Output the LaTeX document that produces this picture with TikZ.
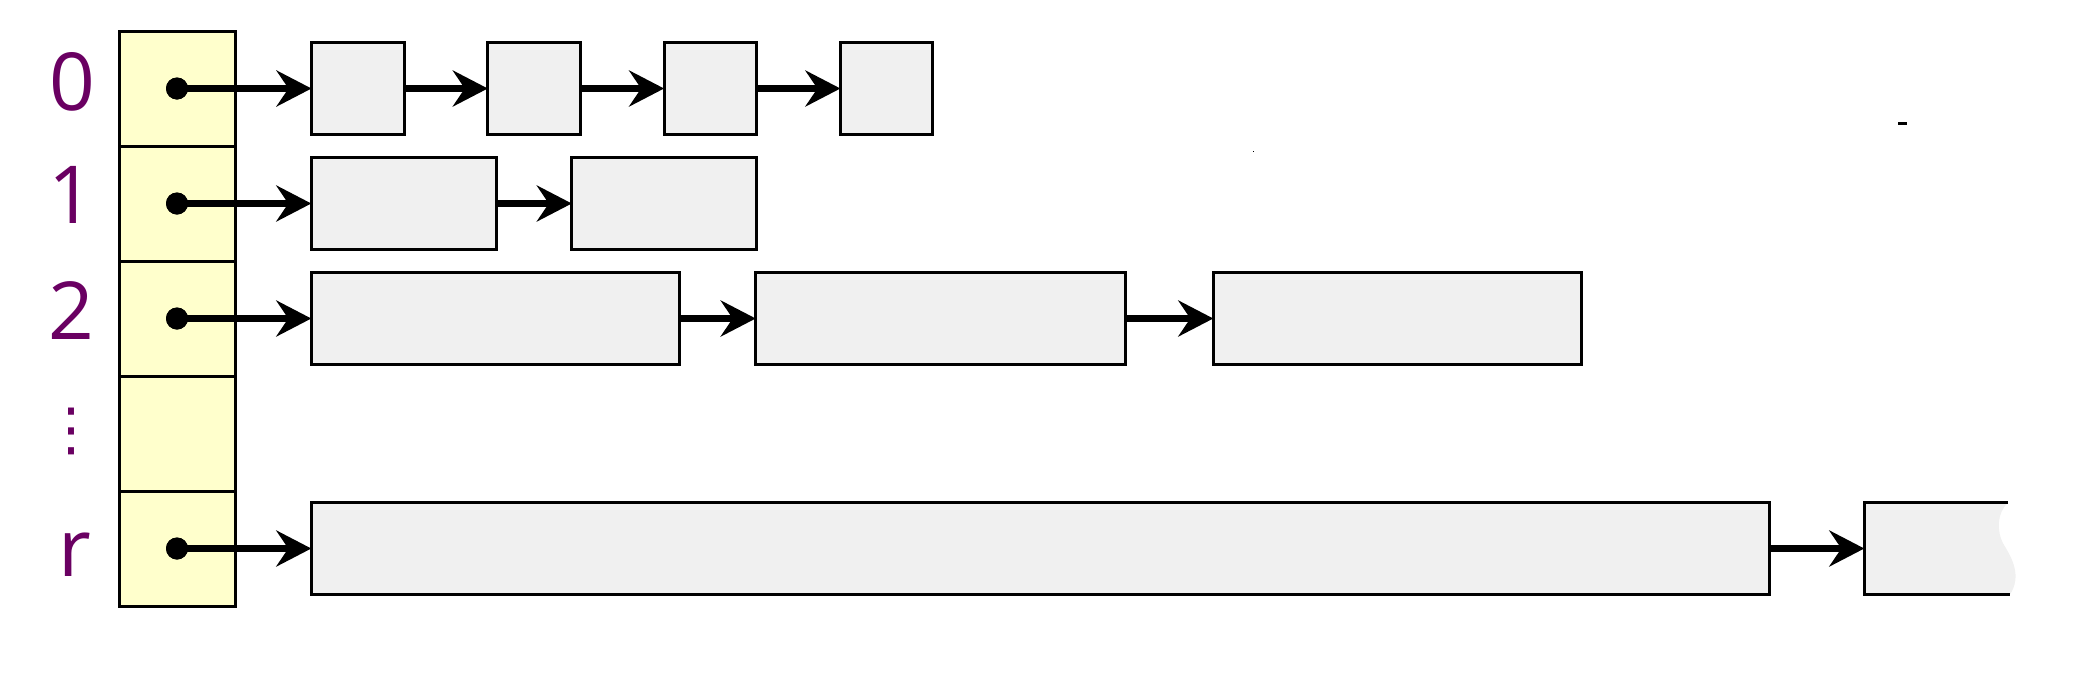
\documentclass[tikz,border=0pt]{standalone}
\usepackage{fontspec}
\setmainfont{Open Sans}
\newfontfamily\symfont{DejaVu Sans}
\usetikzlibrary{arrows.meta}
\definecolor{cellyellow}{HTML}{FFFFCC}
\definecolor{boxgray}{HTML}{F0F0F0}
\definecolor{labpurple}{HTML}{6A0062}
\tikzset{
  cell/.style={draw=black, line width=3pt, fill=cellyellow, minimum width=116pt, minimum height=115pt, inner sep=0pt, outer sep=0pt},
  lbox/.style={draw=black, line width=3pt, fill=boxgray, minimum height=92pt, inner sep=0pt, outer sep=0pt, anchor=west},
  ghost/.style={minimum height=92pt, inner sep=0pt, outer sep=0pt, anchor=west},
  arr/.style={line width=7pt, -{Stealth[length=35pt, width=36pt, inset=12pt]}},
  lab/.style={text=labpurple, font=\fontsize{80}{96}\selectfont, anchor=base, inner sep=0pt},
  dotc/.style={circle, fill=black, minimum size=22pt, inner sep=0pt}
}
\begin{document}
\begin{tikzpicture}[x=1pt,y=-1pt]
\useasboundingbox (0,0) rectangle (2096,694);
% index column
\node[cell] (c0) at (177,88.5) {};
\node[cell] (c1) at (177,203.5) {};
\node[cell] (c2) at (177,318.5) {};
\node[cell] (c3) at (177,433.5) {};
\node[cell] (c4) at (177,548.5) {};
% labels
\node[lab] (l0) at (72.5,110) {0};
\node[lab] (l1) at (71.5,223) {1};
\node[lab] (l2) at (71,339) {2};
\node[text=labpurple, font=\symfont\fontsize{58}{70}\selectfont, inner sep=0pt] (l3) at (71,431.5) {⋮};
\node[lab] (l4) at (75,576) {r};
% dots
\node[dotc] (d0) at (177,88.5) {};
\node[dotc] (d1) at (177,203.5) {};
\node[dotc] (d2) at (177,318.5) {};
\node[dotc] (d4) at (177,548.5) {};
% row 0
\node[lbox, minimum width=92.5pt] (a1) at (311.5,88.5) {};
\node[lbox, minimum width=92.5pt] (a2) at (487.8,88.5) {};
\node[lbox, minimum width=92.5pt] (a3) at (664.1,88.5) {};
\node[lbox, minimum width=92.5pt] (a4) at (840.4,88.5) {};
% row 1
\node[lbox, minimum width=184.8pt] (b1) at (311.3,203.5) {};
\node[lbox, minimum width=184.6pt] (b2) at (571.8,203.5) {};
% row 2
\node[lbox, minimum width=368pt] (e1) at (311.3,318.5) {};
\node[lbox, minimum width=369.3pt] (e2) at (755.7,318.5) {};
\node[lbox, minimum width=367.7pt] (e3) at (1213.3,318.5) {};
% row r
\node[lbox, minimum width=1458pt] (f1) at (311.3,548.5) {};
\node[ghost, minimum width=144pt] (f2) at (1864.3,548.5) {};
\fill[boxgray] (1864.3,502.5) -- (2008,502.5)
  .. controls (1997,513) and (1996,531) .. (2004,545)
  .. controls (2012,558) and (2022,576) .. (2010,594.5)
  -- (1864.3,594.5) -- cycle;
\draw[line width=3pt] (2008,502.5) -- (1864.3,502.5) -- (1864.3,594.5) -- (2010,594.5);
% connectors
\draw[arr] (d0.center) -- (a1.west);
\draw[arr] (a1.east) -- (a2.west);
\draw[arr] (a2.east) -- (a3.west);
\draw[arr] (a3.east) -- (a4.west);
\draw[arr] (d1.center) -- (b1.west);
\draw[arr] (b1.east) -- (b2.west);
\draw[arr] (d2.center) -- (e1.west);
\draw[arr] (e1.east) -- (e2.west);
\draw[arr] (e2.east) -- (e3.west);
\draw[arr] (d4.center) -- (f1.west);
\draw[arr] (f1.east) -- (f2.west);
% redraw dots on top
\node[dotc] at (d0) {};
\node[dotc] at (d1) {};
\node[dotc] at (d2) {};
\node[dotc] at (d4) {};
% stray marks
\fill (1898,122) rectangle (1907,124.5);
\fill (1252.5,150.5) rectangle (1254,152);
\end{tikzpicture}
\end{document}
